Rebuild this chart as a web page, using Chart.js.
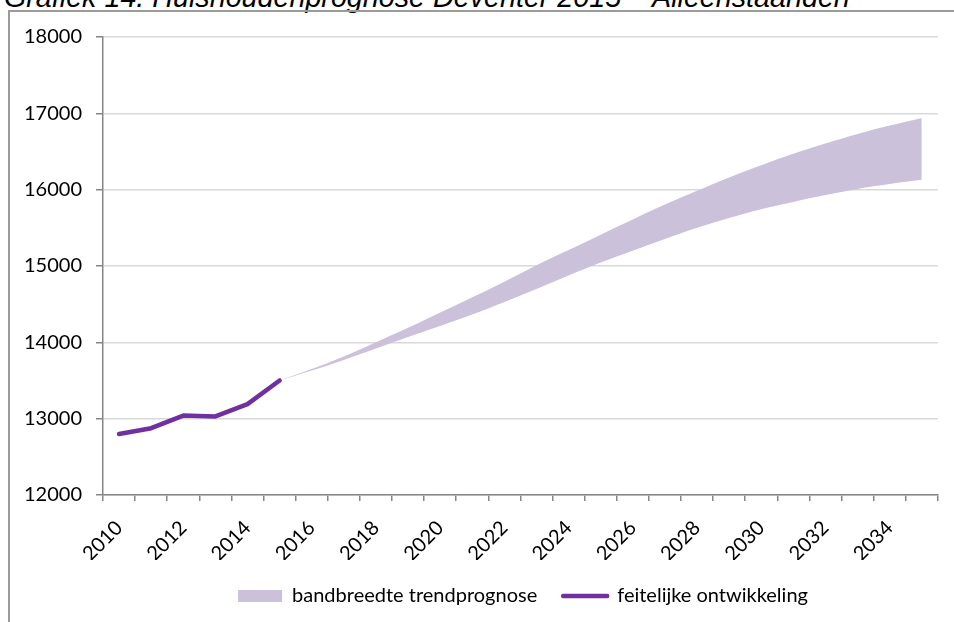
<!DOCTYPE html>
<html>
<head>
<meta charset="utf-8">
<script src="https://cdn.jsdelivr.net/npm/chart.js@4/dist/chart.umd.min.js"></script>
<style>
  html, body { margin: 0; padding: 0; background: #fff; width: 954px; height: 622px; overflow: hidden; position: relative; }
  #title { position: absolute; left: 4px; top: -17px; font-family: "Liberation Sans", Arial, sans-serif; font-style: italic; font-size: 28.7px; line-height: 28.7px; color: #000; white-space: nowrap; }
  #frame { position: absolute; left: 8px; top: 10px; width: 960px; height: 640px; border-left: 2px solid #9a9a9a; border-top: 2px solid #9a9a9a; box-sizing: border-box; }
  #wrap { position: absolute; left: 10px; top: 11px; width: 944px; height: 611px; }
</style>
</head>
<body>
<div id="title">Grafiek 14. Huishoudenprognose Deventer 2015 – Alleenstaanden</div>
<div id="frame"></div>
<div id="wrap"><canvas id="c" width="944" height="611" style="width:944px;height:611px"></canvas></div>
<script>
const years = ['2010','2011','2012','2013','2014','2015','2016','2017','2018','2019','2020','2021','2022','2023','2024','2025','2026','2027','2028','2029','2030','2031','2032','2033','2034','2035'];
const actual = [12800, 12875, 13040, 13030, 13190, 13500, null, null, null, null, null, null, null, null, null, null, null, null, null, null, null, null, null, null, null, null];
const bandLower = [null, null, null, null, null, 13500, 13630, 13770, 13920, 14070, 14215, 14365, 14530, 14700, 14875, 15045, 15200, 15355, 15500, 15630, 15745, 15840, 15930, 16010, 16075, 16130];
const bandUpper = [null, null, null, null, null, 13500, 13650, 13815, 14000, 14190, 14390, 14590, 14795, 15010, 15210, 15410, 15610, 15805, 15985, 16160, 16320, 16470, 16605, 16730, 16840, 16940];
const yTicks = [12000, 13000, 14000, 15000, 16000, 17000, 18000];
const legendLabels = ['bandbreedte trendprognose', 'feitelijke ontwikkeling'];

const FONT = 'Lato';
const FS = 20;
const bandColor = '#ccc1da';
const lineColor = '#7030a0';

const shiftLegend = {
  id: 'shiftLegend',
  afterLayout(chart) {
    const l = chart.legend;
    if (l) { l.left += 48; l.right += 48; }
  }
};

new Chart(document.getElementById('c'), {
  type: 'line',
  data: {
    labels: years,
    datasets: [
      { label: legendLabels[1], data: actual, borderColor: lineColor, borderWidth: 4.5, pointRadius: 0, fill: false, tension: 0, borderCapStyle: 'round', borderJoinStyle: 'round', spanGaps: false },
      { label: 'lower', data: bandLower, borderColor: 'rgba(0,0,0,0)', borderWidth: 0, pointRadius: 0, fill: false, tension: 0.35, backgroundColor: bandColor },
      { label: legendLabels[0], data: bandUpper, borderColor: 'rgba(0,0,0,0)', borderWidth: 0, pointRadius: 0, fill: '-1', tension: 0.35, backgroundColor: bandColor }
    ]
  },
  options: {
    responsive: false,
    animation: false,
    events: [],
    layout: { padding: { left: 0, right: 14, top: 25, bottom: 6 } },
    plugins: {
      tooltip: { enabled: false },
      title: { display: false },
      legend: {
        position: 'bottom',
        labels: {
          font: { family: FONT, size: FS },
          color: '#000',
          padding: 26,
          boxWidth: 44,
          boxHeight: 12,
          usePointStyle: true,
          pointStyleWidth: 44,
          generateLabels: () => [
            { text: legendLabels[0], fillStyle: bandColor, strokeStyle: bandColor, lineWidth: 0, pointStyle: 'rect', hidden: false, datasetIndex: 2, fontColor: '#000' },
            { text: legendLabels[1], fillStyle: lineColor, strokeStyle: lineColor, lineWidth: 4.5, pointStyle: 'line', hidden: false, datasetIndex: 0, fontColor: '#000', lineCap: 'round' }
          ]
        }
      }
    },
    scales: {
      x: {
        type: 'category',
        offset: true,
        afterFit: (s) => { s.height = 65; },
        border: { display: true, color: '#868686', width: 1.5 },
        grid: { display: true, offset: true, drawOnChartArea: false, drawTicks: true, tickLength: 6, color: '#868686', lineWidth: 1.5 },
        ticks: {
          autoSkip: false,
          minRotation: 45,
          maxRotation: 45,
          padding: 15,
          color: '#000',
          font: { family: FONT, size: FS },
          callback: function (v, i) { return i % 2 === 0 ? years[i] : ''; }
        }
      },
      y: {
        min: yTicks[0],
        max: yTicks[yTicks.length - 1],
        afterFit: (s) => { s.width = 93; },
        afterBuildTicks: (s) => { s.ticks = yTicks.map(v => ({ value: v })); },
        border: { display: true, color: '#868686', width: 1.5 },
        grid: { color: '#d9d9d9', lineWidth: 1.5, drawTicks: true, tickLength: 7, tickColor: '#868686' },
        ticks: {
          padding: 14,
          color: '#000',
          font: { family: FONT, size: FS },
          callback: (v) => String(v)
        }
      }
    }
  },
  plugins: [shiftLegend]
});
</script>
</body>
</html>
